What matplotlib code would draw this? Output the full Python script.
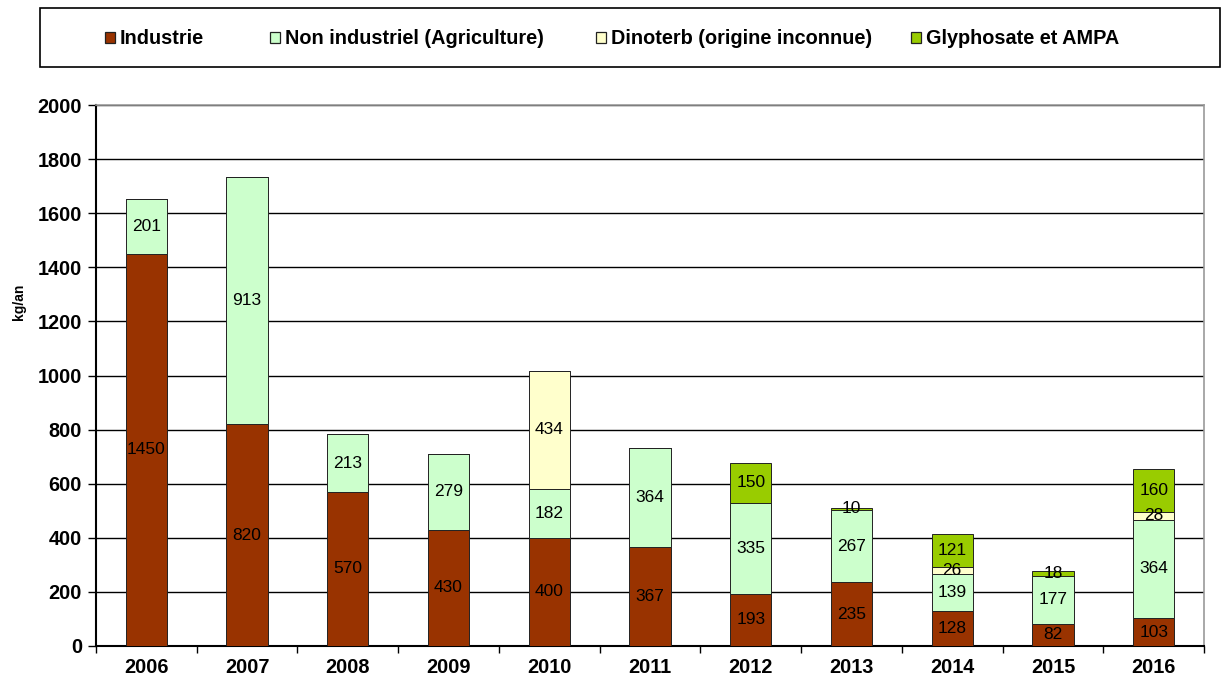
import numpy as np
import matplotlib
matplotlib.use('Agg')
from matplotlib import pyplot as plt
from matplotlib.ticker import FixedLocator

plt.rcParams['font.family'] = ['Liberation Sans', 'DejaVu Sans']

years = ['2006', '2007', '2008', '2009', '2010', '2011', '2012', '2013', '2014', '2015', '2016']
industrie = [1450, 820, 570, 430, 400, 367, 193, 235, 128, 82, 103]
agriculture = [201, 913, 213, 279, 182, 364, 335, 267, 139, 177, 364]
dinoterb = [0, 0, 0, 0, 434, 0, 0, 0, 26, 0, 28]
glyphosate = [0, 0, 0, 0, 0, 0, 150, 10, 121, 18, 160]

series = [
    ('Industrie', industrie, '#993300'),
    ('Non industriel (Agriculture)', agriculture, '#CCFFCC'),
    ('Dinoterb (origine inconnue)', dinoterb, '#FFFFCC'),
    ('Glyphosate et AMPA', glyphosate, '#99CC00'),
]

W, H = 1224, 682
fig = plt.figure(figsize=(W / 100, H / 100), dpi=100)
ax = fig.add_axes([0.0784, 0.0528, 0.9053, 0.7932])

x = np.arange(len(years))
bottom = np.zeros(len(years))
for name, vals, color in series:
    vals = np.array(vals, dtype=float)
    bars = ax.bar(x, vals, width=0.41, bottom=bottom, color=color,
                  edgecolor='#222222', linewidth=0.7, label=name, zorder=3)
    for b, v, y0 in zip(bars, vals, bottom):
        if v > 0:
            ax.text(b.get_x() + b.get_width() / 2, y0 + v / 2, f'{int(v)}',
                    ha='center', va='center', fontsize=12.5, color='black', zorder=4)
    bottom += vals

ax.set_xlim(-0.5, len(years) - 0.5)
ax.set_ylim(0, 2000)
ax.set_yticks(range(0, 2001, 200))
ax.set_xticks(x)
ax.set_xticklabels(years)
ax.xaxis.set_minor_locator(FixedLocator(np.arange(-0.5, len(years), 1)))
ax.tick_params(axis='x', which='major', length=0, pad=9, labelsize=14.3)
ax.tick_params(axis='x', which='minor', length=5, width=1, direction='out')
ax.tick_params(axis='y', length=6, width=1, direction='out', pad=4, labelsize=14.3)
for lbl in ax.get_xticklabels() + ax.get_yticklabels():
    lbl.set_fontweight('bold')

ax.yaxis.grid(True, color='black', linewidth=1, zorder=0)
ax.set_axisbelow(True)
for side in ['top', 'right']:
    ax.spines[side].set_color('#999999')
    ax.spines[side].set_linewidth(1.2)
ax.spines['left'].set_linewidth(1.5)
ax.spines['bottom'].set_linewidth(1.5)

ax.set_ylabel('kg/an', fontsize=10, fontweight='bold')
ax.yaxis.set_label_coords(-0.063, 0.636)

# legend: framed box across the top, entries placed by hand
box = plt.Rectangle((40 / W, 1 - 67 / H), 1180 / W, 59 / H, transform=fig.transFigure,
                    facecolor='white', edgecolor='black', linewidth=1.2, zorder=-1)
fig.add_artist(box)
legend_x = [105, 270, 596, 911]
for (name, vals, color), lx in zip(series, legend_x):
    fig.add_artist(plt.Rectangle((lx / W, 1 - 43 / H), 10 / W, 11 / H,
                                 transform=fig.transFigure, facecolor=color,
                                 edgecolor='#222222', linewidth=0.9))
    fig.text((lx + 15) / W, 1 - 38.5 / H, name, ha='left', va='center',
             fontsize=14.3, fontweight='bold')

fig.savefig('out.png', dpi=100)
